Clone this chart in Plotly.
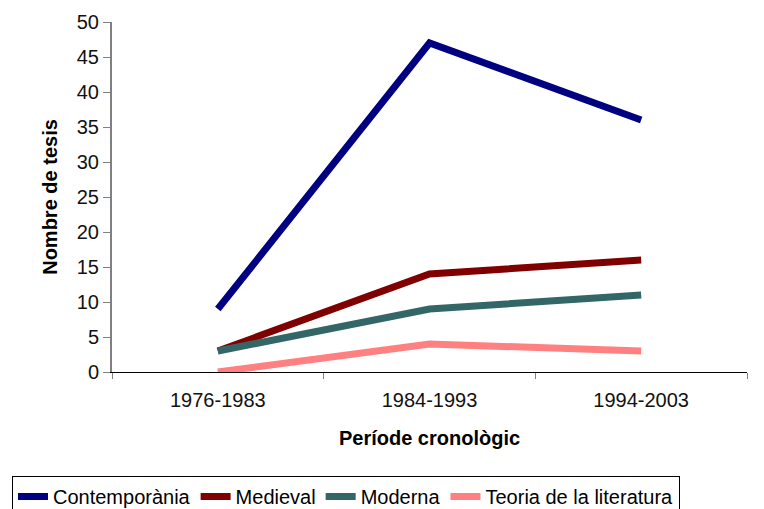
import plotly.graph_objects as go

periods = ["1976-1983", "1984-1993", "1994-2003"]
contemporania = [9, 47, 36]
medieval = [3, 14, 16]
moderna = [3, 9, 11]
teoria = [0, 4, 3]

series = [
    ("Contemporània", contemporania, "#000080"),
    ("Medieval", medieval, "#800000"),
    ("Moderna", moderna, "#336666"),
    ("Teoria de la literatura", teoria, "#FF8080"),
]

fig = go.Figure()
for name, vals, color in series:
    fig.add_trace(go.Scatter(x=periods, y=vals, name=name, mode="lines",
                             line=dict(color=color, width=7)))

font = "Liberation Sans, Arial, sans-serif"
fig.update_layout(
    width=756, height=501,
    margin=dict(l=104, r=17, t=14, b=137, autoexpand=False),
    plot_bgcolor="white", paper_bgcolor="white",
    font=dict(family=font, size=20, color="#000"),
    showlegend=True,
    legend=dict(orientation="h", x=-0.1575, xanchor="left",
                y=-0.2971, yanchor="top",
                bordercolor="#000", borderwidth=1,
                font=dict(family=font, size=20, color="#000"),
                itemwidth=30, tracegroupgap=0),
    xaxis=dict(
        type="category", showgrid=False, tickson="boundaries",
        ticks="outside", ticklen=6, tickcolor="#808080", tickwidth=1,
        showline=True, linecolor="#000", linewidth=1,
        range=[-0.5, 2.5], ticklabelstandoff=10,
        tickfont=dict(size=20, color="#111"),
        title=dict(text="<b>Període cronològic</b>", font=dict(size=20), standoff=20),
    ),
    yaxis=dict(
        range=[0, 50], dtick=5, showgrid=False, zeroline=False,
        ticks="outside", ticklen=7, tickcolor="#808080", tickwidth=1,
        showline=True, linecolor="#808080", linewidth=2,
        tickfont=dict(size=20, color="#111"),
        title=dict(text="<b>Nombre de tesis</b>", font=dict(size=20), standoff=14),
    ),
)
fig.write_html("out.html")
